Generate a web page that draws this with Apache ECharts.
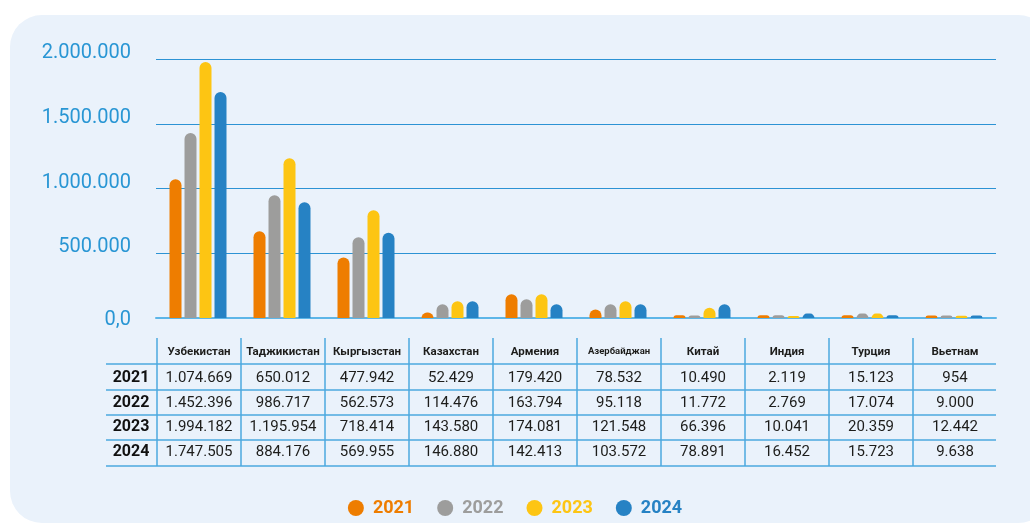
<!DOCTYPE html>
<html>
<head>
<meta charset="utf-8">
<script src="https://cdn.jsdelivr.net/npm/echarts@6/dist/echarts.min.js"></script>
<style>
  html, body { margin: 0; padding: 0; background: #fff; }
  #main { width: 1030px; height: 525px; }
</style>
</head>
<body>
<div id="main"></div>
<script>
const categories = ['Узбекистан', 'Таджикистан', 'Кыргызстан', 'Казахстан', 'Армения',
  'Азербайджан', 'Китай', 'Индия', 'Турция', 'Вьетнам'];
const years = ['2021', '2022', '2023', '2024'];

// values printed in the table
const t2021 = [1074669, 650012, 477942, 52429, 179420, 78532, 10490, 2119, 15123, 954];
const t2022 = [1452396, 986717, 562573, 114476, 163794, 95118, 11772, 2769, 17074, 9000];
const t2023 = [1994182, 1195954, 718414, 143580, 174081, 121548, 66396, 10041, 20359, 12442];
const t2024 = [1747505, 884176, 569955, 146880, 142413, 103572, 78891, 16452, 15723, 9638];

// bar heights as drawn in the picture (they don't follow the table exactly)
const b2021 = [1071000, 669000, 468000, 42000, 183000, 65000, 21000, 21000, 21000, 19000];
const b2022 = [1428000, 948000, 623000, 106000, 145000, 106000, 20000, 21000, 34000, 19000];
const b2023 = [1977000, 1234000, 832000, 129000, 183000, 129000, 80000, 15000, 34000, 17000];
const b2024 = [1745000, 893000, 659000, 129000, 106000, 106000, 106000, 34000, 21000, 19000];

const yTicks = [0, 500000, 1000000, 1500000, 2000000];
const colors = ['#EE7D00', '#9D9D9C', '#FDC513', '#2682C4'];

const tableValues = [t2021, t2022, t2023, t2024];
const barValues = [b2021, b2022, b2023, b2024];

function fmt(n) {
  return String(n).replace(/\B(?=(\d{3})+(?!\d))/g, '.');
}

// layout of plot + table
const gridLeft = 156, gridRight = 34, W = 1030;
const colW = (W - gridLeft - gridRight) / categories.length;
const lineColor = '#4BA8DF';
const textColor = '#1d1d1b';
const font = 'Roboto, "Noto Sans", sans-serif';

const graphics = [{
  type: 'rect',
  z: -100,
  shape: { x: 10, y: 15, width: 1040, height: 508, r: 32 },
  style: { fill: '#EAF2FB' }
}];

// table horizontal lines
[364, 390, 415, 440, 466].forEach(function (y) {
  graphics.push({
    type: 'line',
    shape: { x1: 106, y1: y, x2: W - gridRight, y2: y },
    style: { stroke: lineColor, lineWidth: 1.5 }
  });
});
// table vertical lines + header
categories.forEach(function (c, i) {
  const x0 = gridLeft + i * colW;
  graphics.push({
    type: 'line',
    shape: { x1: x0 + 1, y1: 338, x2: x0 + 1, y2: 466 },
    style: { stroke: lineColor, lineWidth: 1.5 }
  });
  graphics.push({
    type: 'text',
    x: x0 + colW / 2 + 1,
    y: 352,
    style: {
      text: c, fill: textColor, align: 'center', verticalAlign: 'middle',
      font: 'bold ' + (c === 'Азербайджан' ? 9.5 : 11.5) + 'px ' + font
    }
  });
});
// table rows
const rowY = [378, 403, 427, 452];
years.forEach(function (yr, r) {
  graphics.push({
    type: 'text', x: 131, y: rowY[r],
    style: { text: yr, fill: '#111', align: 'center', verticalAlign: 'middle', font: 'bold 16px ' + font }
  });
  tableValues[r].forEach(function (v, i) {
    graphics.push({
      type: 'text',
      x: gridLeft + i * colW + colW / 2 + 1,
      y: rowY[r],
      style: { text: fmt(v), fill: textColor, align: 'center', verticalAlign: 'middle', font: '15px ' + font }
    });
  });
});

const chart = echarts.init(document.getElementById('main'), null, { renderer: 'canvas' });

const option = {
  backgroundColor: '#ffffff',
  animation: false,
  textStyle: { fontFamily: font },
  grid: { left: gridLeft, right: gridRight, top: 59, bottom: 207, containLabel: false },
  legend: {
    top: 494,
    left: 'center',
    icon: 'circle',
    itemWidth: 16,
    itemHeight: 16,
    itemGap: 23,
    selectedMode: false,
    textStyle: { fontSize: 18, fontWeight: 'bold', padding: [0, 0, 0, 4] },
    data: years.map(function (y, i) {
      return { name: y, textStyle: { color: colors[i] } };
    })
  },
  xAxis: {
    type: 'category',
    data: categories,
    axisLine: { show: true, lineStyle: { color: '#5DB6E8', width: 2 } },
    axisTick: { show: false },
    axisLabel: { show: false }
  },
  yAxis: {
    type: 'value',
    min: yTicks[0],
    max: yTicks[yTicks.length - 1],
    interval: yTicks[1] - yTicks[0],
    axisLine: { show: false },
    axisTick: { show: false },
    splitLine: { lineStyle: { color: '#2C93D4', width: 1.2 } },
    axisLabel: {
      margin: 25,
      formatter: function (v) {
        return v === 0 ? '{z|0,0}' : '{a|' + fmt(v) + '}';
      },
      rich: {
        a: { color: '#2996D4', fontSize: 20, fontFamily: font, padding: [0, 0, 12, 0] },
        z: { color: '#2996D4', fontSize: 20, fontFamily: font, padding: [3, 0, 0, 0] }
      }
    }
  },
  graphic: graphics,
  series: years.map(function (y, i) {
    return {
      name: y,
      type: 'bar',
      data: barValues[i],
      barWidth: 12,
      barGap: '25%',
      itemStyle: { color: colors[i], borderRadius: [6, 6, 0, 0] }
    };
  })
};

chart.setOption(option);
</script>
</body>
</html>
